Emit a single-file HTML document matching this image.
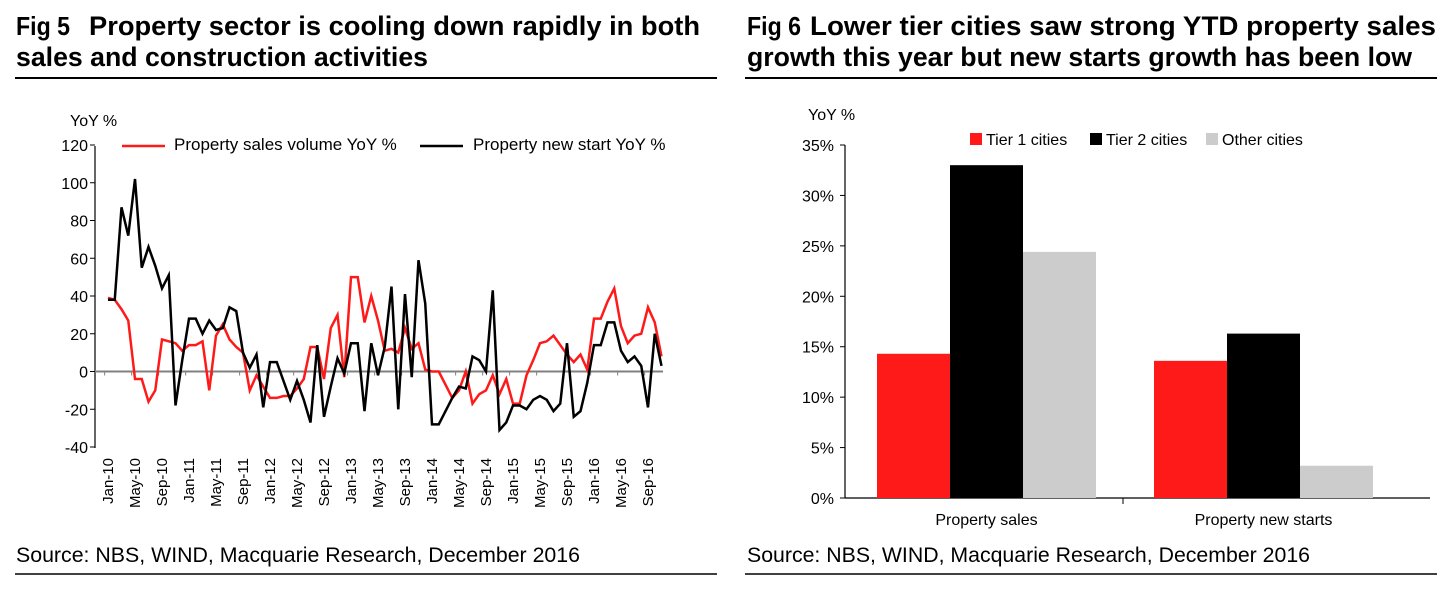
<!DOCTYPE html>
<html><head><meta charset="utf-8"><style>
body{margin:0;width:1455px;height:584px;background:#fff;overflow:hidden;font-family:"Liberation Sans",Arial,sans-serif}
svg text{font-family:"Liberation Sans",Arial,sans-serif}
</style></head><body>
<svg id="s" width="1455" height="584">
<g>
<text x="16" y="35" font-size="26" font-weight="bold" textLength="54" lengthAdjust="spacingAndGlyphs">Fig 5</text>
<text x="89" y="35" font-size="27" font-weight="bold" textLength="611" lengthAdjust="spacingAndGlyphs">Property sector is cooling down rapidly in both</text>
<text x="16" y="66" font-size="27" font-weight="bold" textLength="412" lengthAdjust="spacingAndGlyphs">sales and construction activities</text>
<line x1="15" y1="78" x2="717" y2="78" stroke="#000" stroke-width="2"/>
</g>
<g>
<text x="747" y="35" font-size="26" font-weight="bold" textLength="54" lengthAdjust="spacingAndGlyphs">Fig 6</text>
<text x="810" y="35" font-size="27" font-weight="bold" textLength="626" lengthAdjust="spacingAndGlyphs">Lower tier cities saw strong YTD property sales</text>
<text x="747" y="66" font-size="27" font-weight="bold" textLength="665" lengthAdjust="spacingAndGlyphs">growth this year but new starts growth has been low</text>
<line x1="745" y1="78" x2="1437" y2="78" stroke="#000" stroke-width="2"/>
</g>
<text x="16" y="562" font-size="21" textLength="564" lengthAdjust="spacingAndGlyphs">Source: NBS, WIND, Macquarie Research, December 2016</text>
<line x1="15" y1="574" x2="717" y2="574" stroke="#000" stroke-width="1.5"/>
<text x="747" y="562" font-size="21" textLength="563" lengthAdjust="spacingAndGlyphs">Source: NBS, WIND, Macquarie Research, December 2016</text>
<line x1="745" y1="574" x2="1437" y2="574" stroke="#000" stroke-width="1.5"/>
<g id="left"></g>
<g id="right"></g>
</svg>
<script>
const months=["Jan","Feb","Mar","Apr","May","Jun","Jul","Aug","Sep","Oct","Nov","Dec"];
const salesYoY=[39,38,33,27,-4,-4,-16,-10,17,16,15,11,14,14,16,-10,19,25,17,13,10,-10,-2,-8,-14,-14,-13,-13,-9,-4,13,13,-4,23,30,-3,50,50,26,40,27,11,12,10,23,12,15,1,0,0,-7,-14,-10,0,-17,-12,-10,-2,-12,-4,-17,-17,-2,6,15,16,19,14,9,5,9,1,28,28,37,44,24,15,19,20,34,26,8];
const startsYoY=[38,38,87,72,102,55,66,56,44,51,-18,6,28,28,20,27,22,23,34,32,10,2,9,-19,5,5,-5,-15,-5,-15,-27,14,-24,-8,7,-1,15,15,-21,15,-2,13,45,-20,41,-3,59,36,-28,-28,-21,-14,-8,-9,8,6,0,43,-31,-27,-18,-18,-20,-15,-13,-15,-21,-17,15,-24,-21,-6,14,14,26,26,11,5,8,3,-19,20,3];
const yTicks=[120,100,80,60,40,20,0,-20,-40];
const barCats=["Property sales","Property new starts"];
const tier1=[14.3,13.6];
const tier2=[33.0,16.3];
const other=[24.4,3.2];
const pctTicks=[0,5,10,15,20,25,30,35];
const NS="http://www.w3.org/2000/svg";
function mk(p,t,a,txt){const e=document.createElementNS(NS,t);for(const k in a)e.setAttribute(k,a[k]);if(txt!==undefined)e.textContent=txt;p.appendChild(e);return e;}
const L=document.getElementById('left');
const X0=108,DX=6.75,Y=v=>371.5-(v)*(302/160);
const xL=i=>X0+i*DX;
mk(L,'line',{x1:95,y1:146,x2:95,y2:448,stroke:'#000','stroke-width':1.2});
yTicks.forEach(t=>{
 mk(L,'line',{x1:90,y1:Y(t),x2:95,y2:Y(t),stroke:'#000'});
 const e=mk(L,'text',{x:88,y:Y(t)+6,'font-size':16,'text-anchor':'end'},String(t));
 
 
});
let yt=mk(L,'text',{x:70,y:126,'font-size':16},'YoY %');


mk(L,'line',{x1:95,y1:Y(0),x2:663,y2:Y(0),stroke:'#808080','stroke-width':2});
for(let i=0;i<salesYoY.length;i+=4){
 mk(L,'line',{x1:xL(i)-DX/2,y1:Y(0),x2:xL(i)-DX/2,y2:Y(0)+4,stroke:'#808080'});
 const lab=months[i%12]+'-'+(10+Math.floor(i/12));
 const e=mk(L,'text',{x:0,y:0,'font-size':15,'text-anchor':'end',transform:`translate(${xL(i)+5},458) rotate(-90)`},lab);
 
 
}
function series(arr,col,name){const p=mk(L,'polyline',{points:arr.map((v,i)=>xL(i)+','+Y(v)).join(' '),fill:'none',stroke:col,'stroke-width':2.5,'stroke-linejoin':'miter'});
 
 }
series(salesYoY,'#ff1a1a','sales-volume-line');
series(startsYoY,'#000','new-start-line');
let lg=mk(L,'g',{});


mk(lg,'line',{x1:122,y1:146,x2:165,y2:146,stroke:'#ff1a1a','stroke-width':2.5});
mk(lg,'text',{x:174,y:150,'font-size':17},'Property sales volume YoY %');
mk(lg,'line',{x1:420,y1:146,x2:463,y2:146,stroke:'#000','stroke-width':2.5});
mk(lg,'text',{x:473,y:150,'font-size':17},'Property new start YoY %');
const R=document.getElementById('right');
const P=v=>498-v*(353/35);
mk(R,'line',{x1:845,y1:145,x2:845,y2:498,stroke:'#000','stroke-width':1.2});
mk(R,'line',{x1:845,y1:498,x2:1430,y2:498,stroke:'#000','stroke-width':1.2});
pctTicks.forEach(t=>{
 mk(R,'line',{x1:840,y1:P(t),x2:845,y2:P(t),stroke:'#000'});
 const e=mk(R,'text',{x:834,y:P(t)+6,'font-size':16,'text-anchor':'end'},t+'%');
 
 
});
let rt=mk(R,'text',{x:808,y:120,'font-size':16},'YoY %');


mk(R,'line',{x1:1123,y1:498,x2:1123,y2:504,stroke:'#000'});
const GW=277,BW=73;
barCats.forEach((c,g)=>{
 const gx=845+GW*g+32;
 [[tier1,'#ff1a1a'],[tier2,'#000'],[other,'#cccccc']].forEach(([arr,col],k)=>{
  const r=mk(R,'rect',{x:gx+k*BW,y:P(arr[g]),width:BW,height:P(0)-P(arr[g]),fill:col});
  
  
 });
 const e=mk(R,'text',{x:gx+BW*1.5,y:525,'font-size':16,'text-anchor':'middle'},c);
 
 
});
let rl=mk(R,'g',{});


[['Tier 1 cities','#ff1a1a',970],['Tier 2 cities','#000',1090],['Other cities','#cccccc',1206]].forEach(([t,c,x])=>{
 mk(rl,'rect',{x:x,y:133,width:12,height:12,fill:c});
 mk(rl,'text',{x:x+16,y:145,'font-size':16},t);
});
</script>
</body></html>
